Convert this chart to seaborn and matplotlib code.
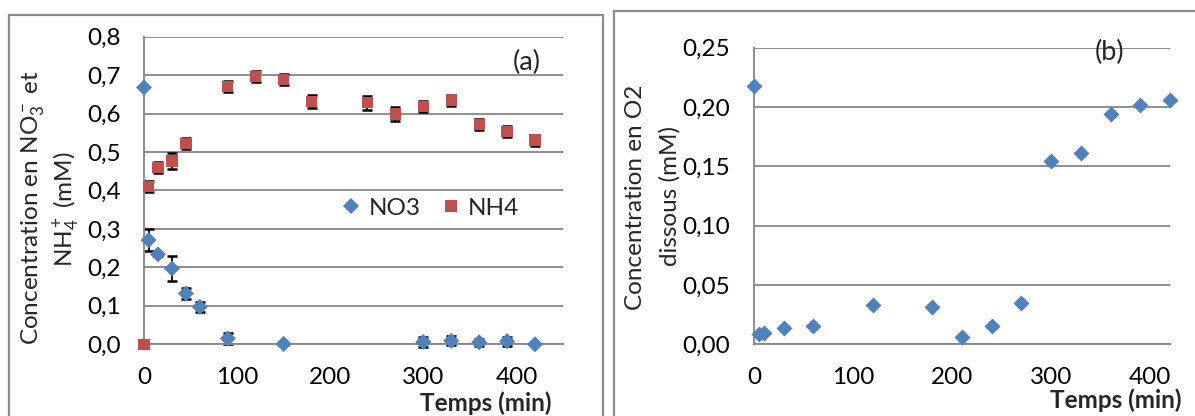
import matplotlib
matplotlib.use("Agg")
import pandas as pd
import matplotlib.pyplot as plt
import seaborn as sns
from matplotlib.patches import Rectangle
from matplotlib.ticker import FuncFormatter, MultipleLocator

# Données (a) : NO3 et NH4
t_no3 = [0, 5, 15, 30, 45, 60, 90, 150, 300, 330, 360, 390, 420]
no3 = [0.668, 0.271, 0.234, 0.197, 0.132, 0.097, 0.015, 0.001, 0.006, 0.009, 0.005, 0.008, 0.0]
no3_err = [0.0, 0.028, 0.004, 0.032, 0.014, 0.013, 0.0135, 0.0, 0.012, 0.012, 0.01, 0.012, 0.0]

t_nh4 = [0, 5, 15, 30, 45, 90, 120, 150, 180, 240, 270, 300, 330, 360, 390, 420]
nh4 = [0.0, 0.41, 0.460, 0.477, 0.523, 0.670, 0.697, 0.689, 0.631, 0.628, 0.599, 0.619, 0.635, 0.571, 0.553, 0.531]
nh4_err = [0.0, 0.014, 0.014, 0.02, 0.014, 0.015, 0.014, 0.014, 0.0175, 0.018, 0.017, 0.014, 0.014, 0.014, 0.014, 0.014]

# Données (b) : O2 dissous
t_o2 = [0, 5, 10, 30, 60, 120, 180, 210, 240, 270, 300, 330, 360, 390, 420]
o2 = [0.218, 0.0085, 0.0098, 0.014, 0.0155, 0.0329, 0.0315, 0.0062, 0.0157, 0.0348, 0.1548, 0.161, 0.1938, 0.202, 0.2056]

bleu = "#4F81BD"
rouge = "#C0504D"
gris = "#868686"

sns.set_style("white")
plt.rcParams["font.family"] = ["Lato", "DejaVu Sans"]
plt.rcParams["mathtext.fontset"] = "custom"
plt.rcParams["mathtext.rm"] = "Lato"
plt.rcParams["mathtext.it"] = "Lato:italic"
plt.rcParams["mathtext.bf"] = "Lato:bold"

fs = 17.5

df_a = pd.concat([
    pd.DataFrame({"temps": t_no3, "conc": no3, "espece": "NO3"}),
    pd.DataFrame({"temps": t_nh4, "conc": nh4, "espece": "NH4"}),
])
df_b = pd.DataFrame({"temps": t_o2, "conc": o2})

fig = plt.figure(figsize=(11.95, 4.16), dpi=100)
ax1 = fig.add_axes([0.1205, 0.1724, 0.3506, 0.7394])
ax2 = fig.add_axes([0.631, 0.1724, 0.3481, 0.7129])

# cadres des deux graphiques
fig.patches.append(Rectangle((9 / 1195, -0.1), (603 - 9) / 1195, 1 - 15 / 416 + 0.1,
                             transform=fig.transFigure, fill=False, edgecolor="#8c8c8c", lw=1.6))
fig.patches.append(Rectangle((614 / 1195, -0.1), 0.6, 1 - 11 / 416 + 0.1,
                             transform=fig.transFigure, fill=False, edgecolor="#8c8c8c", lw=1.6))

# (a)
ax1.errorbar(t_no3, no3, yerr=no3_err, fmt="none", ecolor="black", elinewidth=1.3,
             capsize=3.6, capthick=1.8, zorder=2, clip_on=False)
ax1.errorbar(t_nh4, nh4, yerr=nh4_err, fmt="none", ecolor="black", elinewidth=1.3,
             capsize=3.6, capthick=1.8, zorder=2, clip_on=False)
sns.scatterplot(data=df_a, x="temps", y="conc", hue="espece", style="espece",
                palette={"NO3": bleu, "NH4": rouge}, markers={"NO3": "D", "NH4": "s"},
                s=66, linewidth=0, ax=ax1, zorder=3, clip_on=False)
ax1.set_xlim(0, 450)
ax1.set_ylim(0, 0.8)
ax1.yaxis.set_major_locator(MultipleLocator(0.1))
ax1.yaxis.set_major_formatter(FuncFormatter(lambda v, p: ("%.1f" % v).replace(".", ",")))
leg = ax1.legend(ncol=2, frameon=False, loc="center", bbox_to_anchor=(0.685, 0.443),
                 fontsize=fs, handlelength=0.7, handletextpad=0.35, columnspacing=0.9,
                 borderaxespad=0)
leg.set_title(None)

# (b)
sns.scatterplot(data=df_b, x="temps", y="conc", color=bleu, marker="D", s=66,
                linewidth=0, ax=ax2, zorder=3, clip_on=False)
ax2.set_xlim(0, 420)
ax2.set_ylim(0, 0.25)
ax2.yaxis.set_major_locator(MultipleLocator(0.05))
ax2.yaxis.set_major_formatter(FuncFormatter(lambda v, p: ("%.2f" % v).replace(".", ",")))

for ax in (ax1, ax2):
    ax.xaxis.set_major_locator(MultipleLocator(100))
    ax.set_xlabel("")
    ax.set_ylabel("")
    ax.set_axisbelow(True)
    ax.yaxis.grid(True, color=gris, lw=1.3)
    ax.xaxis.grid(False)
    for s in ("top", "right"):
        ax.spines[s].set_visible(False)
    for s in ("left", "bottom"):
        ax.spines[s].set_color(gris)
        ax.spines[s].set_linewidth(1.3)
    ax.tick_params(axis="both", which="major", direction="out", length=6, width=1.3,
                   color=gris, labelsize=fs, labelcolor="black")
    ax.tick_params(axis="y", pad=11)
    ax.tick_params(axis="x", pad=10)

# repères (a) et (b)
fig.text(527 / 1195, 1 - 62 / 416, "(a)", fontsize=19.5, ha="center", va="center")
fig.text(1110 / 1195, 1 - 52 / 416, "(b)", fontsize=19.5, ha="center", va="center")

# titres des axes
fig.text(32.5 / 1195, 1 - 208 / 416, r"Concentration en NO$_3^-$ et", rotation=90,
         fontsize=fs, ha="center", va="center")
fig.text(67 / 1195, 1 - 209 / 416, r"NH$_4^+$ (mM)", rotation=90,
         fontsize=fs, ha="center", va="center")
fig.text(636 / 1195, 1 - 197 / 416, "Concentration en O2", rotation=90,
         fontsize=fs, ha="center", va="center")
fig.text(670 / 1195, 1 - 196 / 416, "dissous (mM)", rotation=90,
         fontsize=fs, ha="center", va="center")
fig.text(552 / 1195, 1 - 403 / 416, "Temps (min)", fontsize=fs, fontweight="bold",
         ha="right", va="center")
fig.text(1182 / 1195, 1 - 400 / 416, "Temps (min)", fontsize=fs, fontweight="bold",
         ha="right", va="center")

fig.savefig("out.png", dpi=100)
